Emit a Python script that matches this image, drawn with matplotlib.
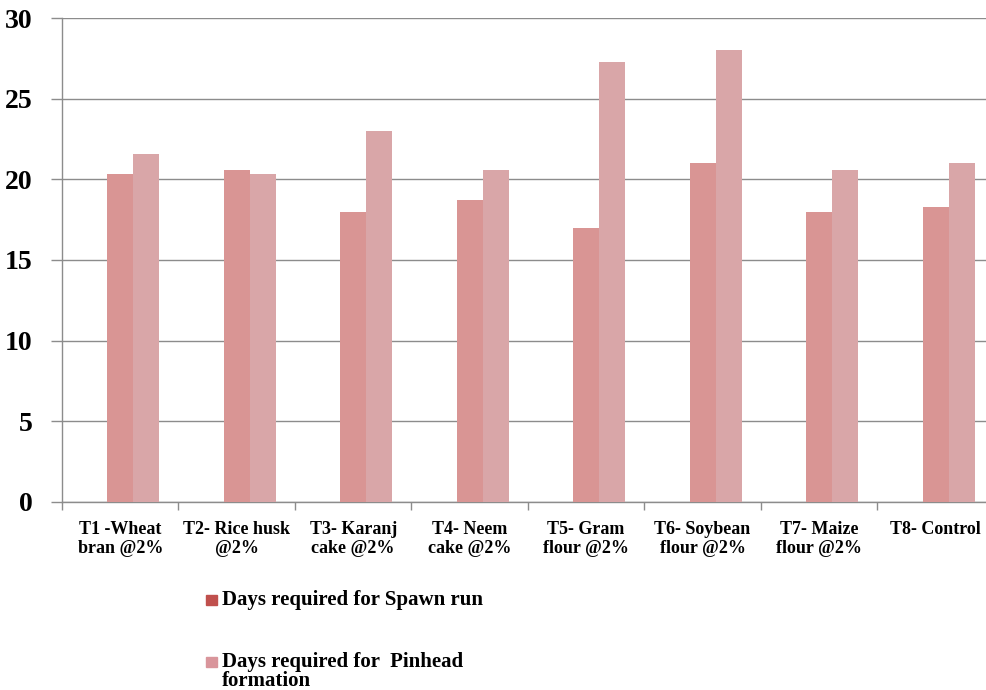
import numpy as np
import matplotlib.pyplot as plt
from matplotlib.patches import Rectangle

plt.rcParams['font.family'] = ['Liberation Serif', 'DejaVu Serif']
plt.rcParams['font.weight'] = 'bold'

categories = [
    "T1 -Wheat\nbran @2%",
    "T2- Rice husk\n@2%",
    "T3- Karanj\ncake @2%",
    "T4- Neem\ncake @2%",
    "T5- Gram\nflour @2%",
    "T6- Soybean\nflour @2%",
    "T7- Maize\nflour @2%",
    "T8- Control",
]
spawn_run = [20.3, 20.6, 18.0, 18.7, 17.0, 21.0, 18.0, 18.3]
pinhead = [21.6, 20.3, 23.0, 20.6, 27.3, 28.0, 20.6, 21.0]
series_labels = ["Days required for Spawn run", "Days required for  Pinhead\nformation"]

BAR_COLORS = ["#D99594", "#D9A6A8"]
LEGEND_COLORS = ["#C0504D", "#D9959B"]
GRID = "#8c8c8c"
W, H = 986, 690


def main() -> None:
    fig = plt.figure(figsize=(W / 100, H / 100), dpi=100)
    ax = fig.add_axes([0.0629, 0.2725, 0.945, 0.7014])

    x = np.arange(len(categories))
    w = 0.223
    ax.bar(x, spawn_run, width=w, color=BAR_COLORS[0], zorder=3)
    ax.bar(x + w, pinhead, width=w, color=BAR_COLORS[1], zorder=3)

    ax.set_xlim(-0.5, len(categories) - 0.5)
    ax.set_ylim(0, 30)
    ax.set_yticks(range(0, 31, 5))
    ax.yaxis.grid(True, color=GRID, lw=1.0, zorder=0)

    ax.set_xticks(np.arange(len(categories) + 1) - 0.5)
    ax.set_xticklabels([])
    ax.set_xticks(x, minor=True)
    ax.set_xticklabels(categories, minor=True, fontsize=13, fontweight="bold",
                       linespacing=1.1)
    ax.tick_params(axis="x", which="minor", length=0, pad=14)
    ax.tick_params(axis="x", which="major", length=6, color=GRID, width=1)
    ax.tick_params(axis="y", length=8, color=GRID, width=1, pad=13, labelsize=20)

    for s in ["top", "right"]:
        ax.spines[s].set_visible(False)
    for s in ["left", "bottom"]:
        ax.spines[s].set_color(GRID)
        ax.spines[s].set_linewidth(1.0)

    # legend below the plot, square aligned with the first text line
    # (first-line baseline, last-line baseline) in pixels from the top
    baselines = [(605, 605), (667, 686)]
    for label, color, (b1, b2) in zip(series_labels, LEGEND_COLORS, baselines):
        fig.add_artist(Rectangle((206 / W, 1 - b1 / H), 11 / W, 10 / H,
                                 transform=fig.transFigure, color=color))
        fig.text(222 / W, 1 - b2 / H, label, fontsize=15, fontweight="bold",
                 ha="left", va="baseline", linespacing=0.95)

    fig.savefig("out.png", dpi=100)


if __name__ == "__main__":
    main()
